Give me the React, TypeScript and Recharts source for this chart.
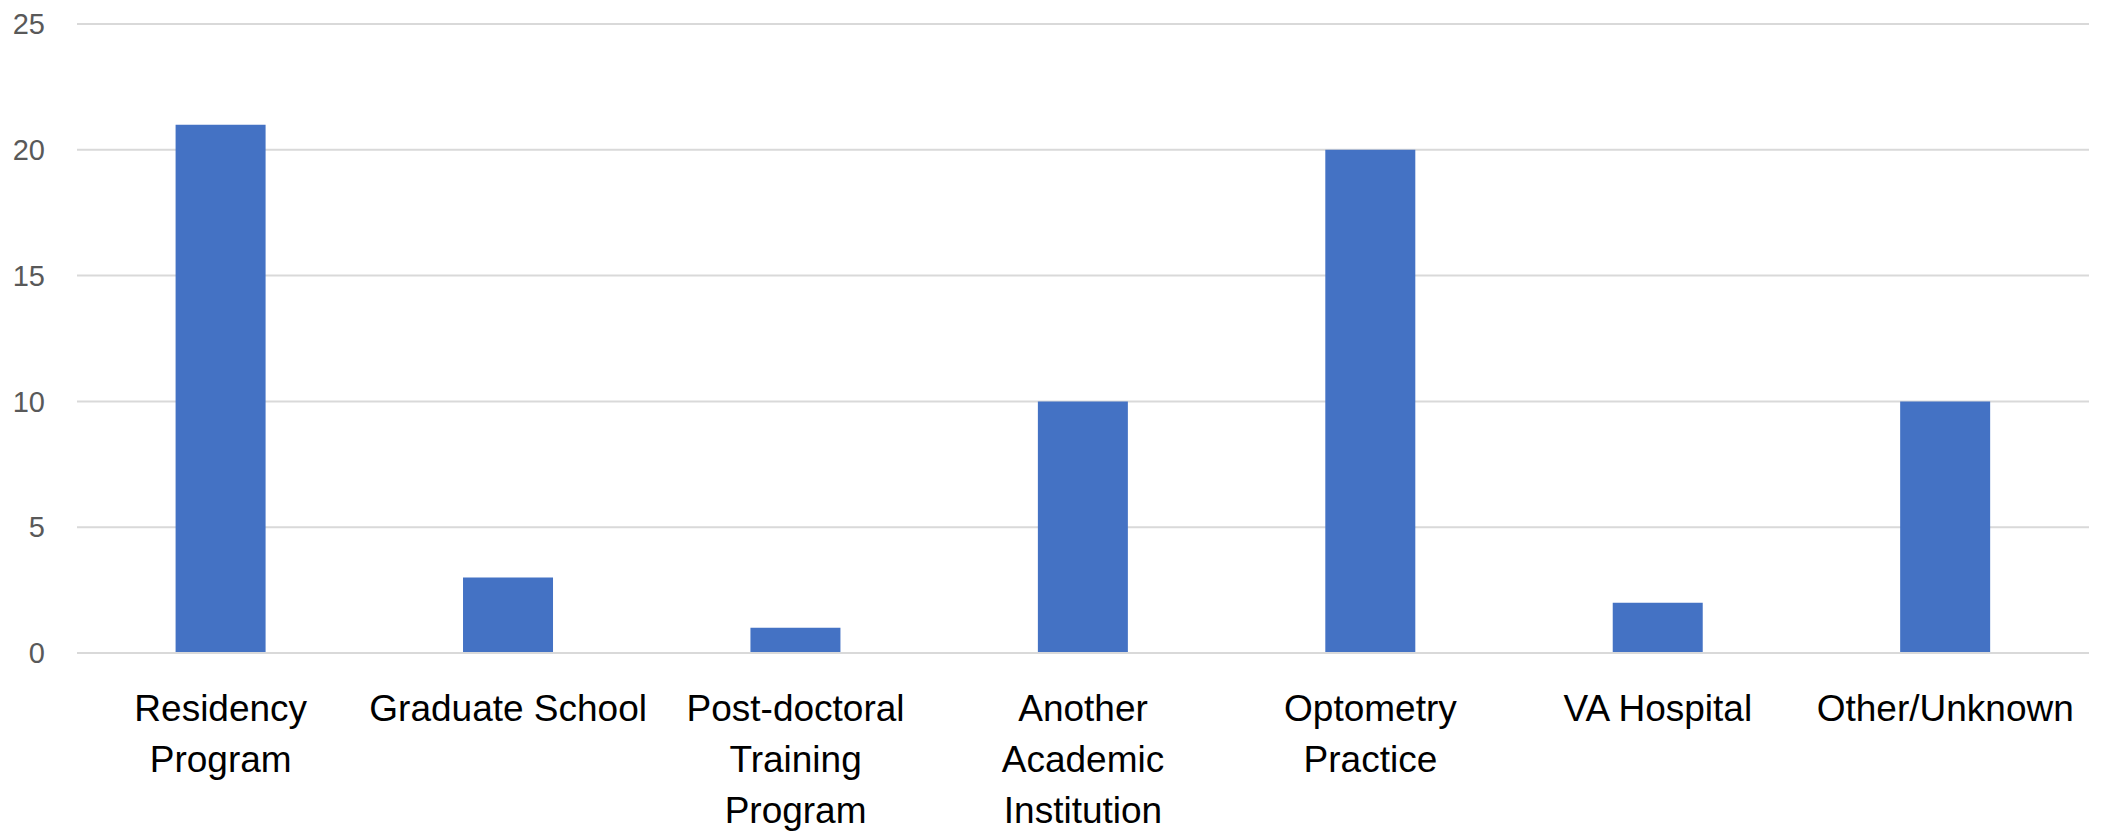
import React from "react";
import { BarChart, Bar, XAxis, YAxis, CartesianGrid } from "recharts";

const categories = [
  "Residency Program",
  "Graduate School",
  "Post-doctoral Training Program",
  "Another Academic Institution",
  "Optometry Practice",
  "VA Hospital",
  "Other/Unknown",
];

// how each category label wraps under the axis
const labelLines = [
  ["Residency", "Program"],
  ["Graduate School"],
  ["Post-doctoral", "Training", "Program"],
  ["Another", "Academic", "Institution"],
  ["Optometry", "Practice"],
  ["VA Hospital"],
  ["Other/Unknown"],
];

const counts = [21, 3, 1, 10, 20, 2, 10];

const yTicks = [0, 5, 10, 15, 20, 25];

const data = categories.map((name, i) => ({ name, count: counts[i] }));

const FONT = "'Liberation Sans', Arial, sans-serif";

function CategoryTick(props: any) {
  const { x, y, payload } = props;
  const lines = labelLines[payload.index] || [payload.value];
  return (
    <text
      x={x}
      y={y + 68}
      textAnchor="middle"
      fill="#000000"
      fontSize={37}
      fontFamily={FONT}
    >
      {lines.map((line: string, i: number) => (
        <tspan key={i} x={x} dy={i === 0 ? 0 : 51}>
          {line}
        </tspan>
      ))}
    </text>
  );
}

export default function App() {
  return (
    <div style={{ position: "absolute", left: 0, top: 0, background: "#fff" }}>
      <BarChart
        width={2107}
        height={834}
        data={data}
        margin={{ top: 24, right: 18, left: 0, bottom: 0 }}
        barCategoryGap="34.3%"
      >
        <CartesianGrid
          vertical={false}
          stroke="#d9d9d9"
          strokeWidth={2}
        />
        <XAxis
          dataKey="name"
          height={181}
          axisLine={{ stroke: "#d9d9d9", strokeWidth: 2 }}
          tickLine={false}
          tickSize={0}
          tickMargin={0}
          interval={0}
          tick={<CategoryTick />}
        />
        <YAxis
          width={77}
          domain={[0, 25]}
          ticks={yTicks}
          axisLine={false}
          tickLine={false}
          tickSize={0}
          tickMargin={32}
          tick={{ fill: "#595959", fontSize: 29, fontFamily: FONT }}
        />
        <Bar dataKey="count" fill="#4472C4" isAnimationActive={false} />
      </BarChart>
    </div>
  );
}
